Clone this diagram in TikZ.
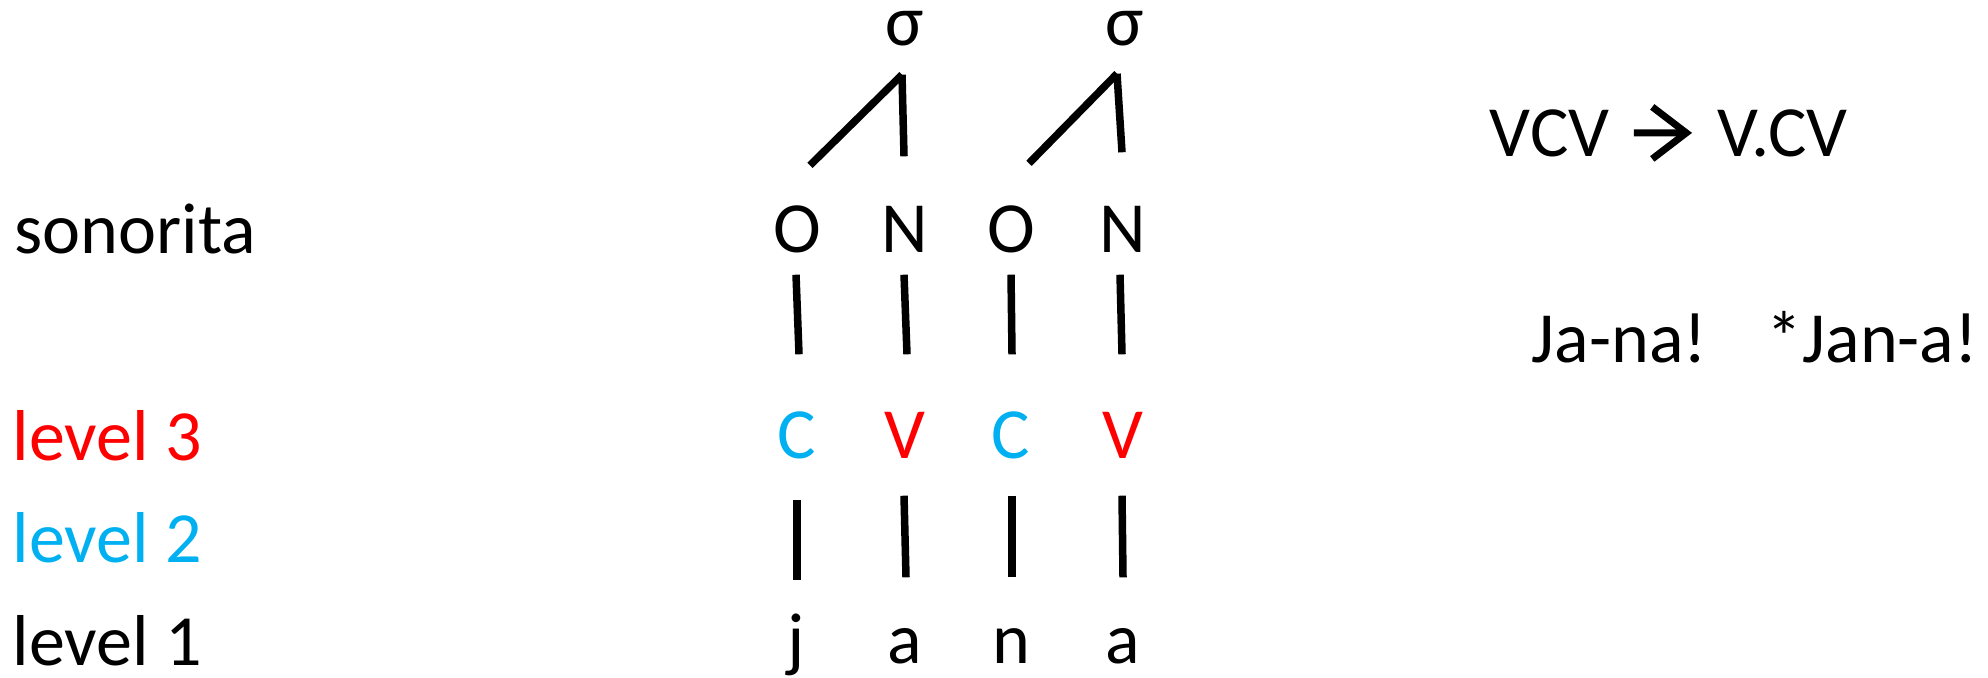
\documentclass[tikz,border=0pt]{standalone}
\usepackage{fontspec}
\setmainfont{Carlito}
\usetikzlibrary{arrows.meta,positioning,calc}
\definecolor{lvlred}{HTML}{FF0000}
\definecolor{lvlblue}{HTML}{00B0F0}
\tikzset{lbl/.style={anchor=base west,inner sep=0pt,font=\fontsize{20.5}{24}\selectfont},
 seg/.style={anchor=base,inner sep=0pt,text height=4.7mm,text depth=0pt,font=\fontsize{20.5}{24}\selectfont},
 syl/.style={seg,text height=3.5mm},
 stem/.style={line width=0.75mm},
 resyl/.style={-{Straight Barb[length=3.4mm,width=5.2mm,line join=miter]},line width=0.7mm}}

\begin{document}
\begin{tikzpicture}[x=0.1mm,y=-0.1mm]
\useasboundingbox (0,0) rectangle (1988,677);

\node[lbl] (son) at (14,253) {sonorita};
\node[lbl,text=lvlred] (lv3) at (12,460) {level 3};
\node[lbl,text=lvlblue] (lv2) at (12,562) {level 2};
\node[lbl] (lv1) at (12,665) {level 1};

\node[syl] (s1) at (905,45) {σ};
\node[syl] (s2) at (1125,45) {σ};

\node[seg] (o1) at (797,252) {O};
\node[seg] (n1) at (905,252) {N};
\node[seg] (o2) at (1011,252) {O};
\node[seg] (n2) at (1123,252) {N};

\node[seg,text=lvlblue] (c1) at (797,458) {C};
\node[seg,text=lvlred] (v1) at (905,458) {V};
\node[seg,text=lvlblue] (c2) at (1011,458) {C};
\node[seg,text=lvlred] (v2) at (1123,458) {V};

\node[seg] (j) at (796,663) {j};
\node[seg] (a1) at (905,663) {a};
\node[seg] (nn) at (1011,663) {n};
\node[seg] (a2) at (1123,663) {a};

\coordinate (apex1) at ($(s1.south)+(-3,29)$);
\coordinate (apex2) at ($(s2.south)+(-8,28)$);
\draw[stem] ($(o1.north)+(13,-39)$) -- (apex1);
\draw[stem] (apex1) -- ($(n1.north)+(-1,-48)$);
\draw[stem] ($(o2.north)+(18,-41)$) -- (apex2);
\draw[stem] (apex2) -- ($(n2.north)+(-1,-52)$);

\draw[stem] ($(o1.south)+(-1,22)$) -- ($(c1.north)+(2,-56)$);
\draw[stem] ($(n1.south)+(-1,22)$) -- ($(v1.north)+(2,-56)$);
\draw[stem] ($(o2.south)+(0,22)$) -- ($(c2.north)+(1,-56)$);
\draw[stem] ($(n2.south)+(-3,22)$) -- ($(v2.north)+(-1,-56)$);

\draw[stem] ($(c1.south)+(0,41)$) -- ($(j.north)+(1,-35)$);
\draw[stem] ($(v1.south)+(-1,37)$) -- ($(a1.north)+(1,-38)$);
\draw[stem] ($(c2.south)+(1,37)$) -- ($(nn.north)+(1,-38)$);
\draw[stem] ($(v2.south)+(-1,37)$) -- ($(a2.north)+(0,-38)$);

\node[lbl] (pre) at (1489,156) {VCV};
\node[lbl] (post) at (1717,156) {V.CV};
\draw[resyl,shorten <=2.4mm,shorten >=2.5mm] (pre) -- (post);

\node[lbl] (good) at (1531,362) {Ja-na!};
\node[lbl] (bad) at (1766,362) {*Jan-a!};
\end{tikzpicture}
\end{document}
